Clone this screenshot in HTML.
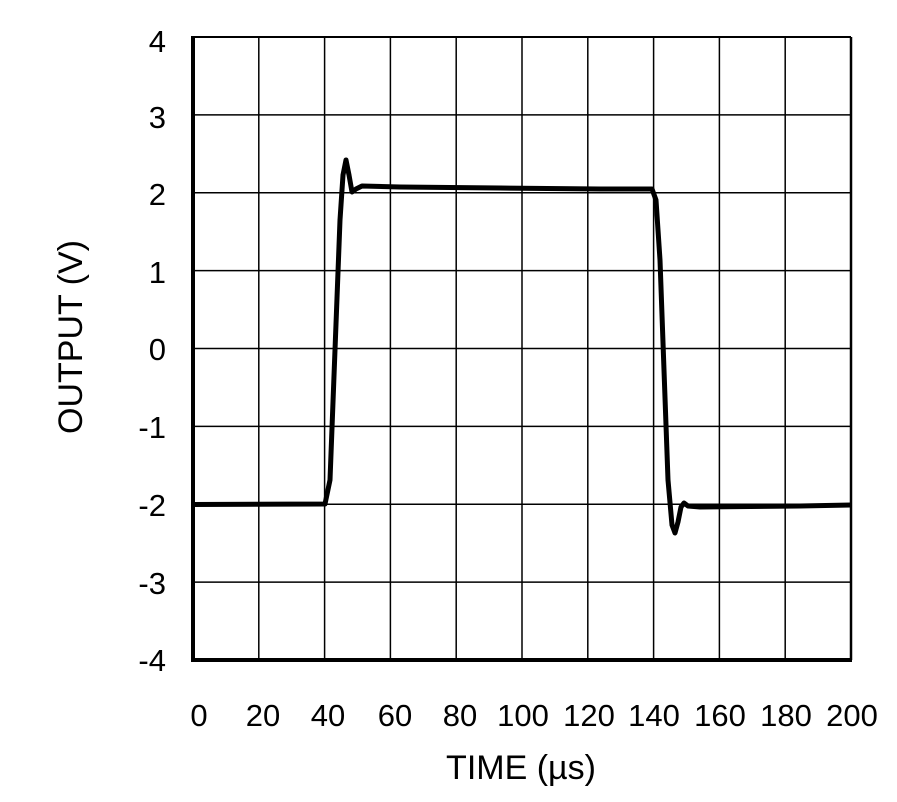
<!DOCTYPE html>
<html><head><style>
body{margin:0;background:#fff;}
svg text{font-family:"Liberation Sans",sans-serif;fill:#000;}
</style></head><body>
<svg width="897" height="797" viewBox="0 0 897 797" xmlns="http://www.w3.org/2000/svg">
<g stroke="#000" stroke-width="1.5">
<line x1="258.8" y1="37" x2="258.8" y2="660"/>
<line x1="324.6" y1="37" x2="324.6" y2="660"/>
<line x1="390.4" y1="37" x2="390.4" y2="660"/>
<line x1="456.2" y1="37" x2="456.2" y2="660"/>
<line x1="522" y1="37" x2="522" y2="660"/>
<line x1="587.8" y1="37" x2="587.8" y2="660"/>
<line x1="653.6" y1="37" x2="653.6" y2="660"/>
<line x1="719.4" y1="37" x2="719.4" y2="660"/>
<line x1="785.2" y1="37" x2="785.2" y2="660"/>
<line x1="851" y1="37" x2="851" y2="660" stroke-width="2.5"/>
<line x1="193" y1="37" x2="851" y2="37" stroke-width="2"/>
<line x1="193" y1="114.9" x2="851" y2="114.9"/>
<line x1="193" y1="192.8" x2="851" y2="192.8"/>
<line x1="193" y1="270.6" x2="851" y2="270.6"/>
<line x1="193" y1="348.5" x2="851" y2="348.5"/>
<line x1="193" y1="426.4" x2="851" y2="426.4"/>
<line x1="193" y1="504.2" x2="851" y2="504.2"/>
<line x1="193" y1="582.1" x2="851" y2="582.1"/>
</g>
<line x1="193" y1="36" x2="193" y2="662" stroke="#000" stroke-width="4"/>
<line x1="191" y1="660" x2="852" y2="660" stroke="#000" stroke-width="4"/>
<path d="M193,504.5 L325,504 L330,480 L340,220 L343,175 L346,160 L349,175 L352,192 L356,189 L362,186 L400,187 L500,188 L600,189 L652,189 L656,200 L660,260 L668,480 L672,525 L675,533 L678,522 L681,507 L684,503 L688,506 L700,507 L800,506 L851,505"
 fill="none" stroke="#000" stroke-width="5" stroke-linejoin="round"/>
<g font-size="31" text-anchor="end">
<text x="166" y="52">4</text>
<text x="166" y="128">3</text>
<text x="166" y="205">2</text>
<text x="166" y="283">1</text>
<text x="166" y="360">0</text>
<text x="166" y="438">-1</text>
<text x="166" y="516">-2</text>
<text x="166" y="594">-3</text>
<text x="166" y="671">-4</text>
</g>
<g font-size="31" text-anchor="middle">
<text x="199" y="726">0</text>
<text x="263" y="726">20</text>
<text x="328" y="726">40</text>
<text x="395" y="726">60</text>
<text x="460" y="726">80</text>
<text x="523" y="726">100</text>
<text x="589" y="726">120</text>
<text x="654" y="726">140</text>
<text x="720" y="726">160</text>
<text x="786" y="726">180</text>
<text x="852" y="726">200</text>
</g>
<g font-size="34" text-anchor="middle">
<text x="521" y="779">TIME (µs)</text>
<text transform="translate(82,337) rotate(-90)">OUTPUT (V)</text>
</g>
</svg>
</body></html>
